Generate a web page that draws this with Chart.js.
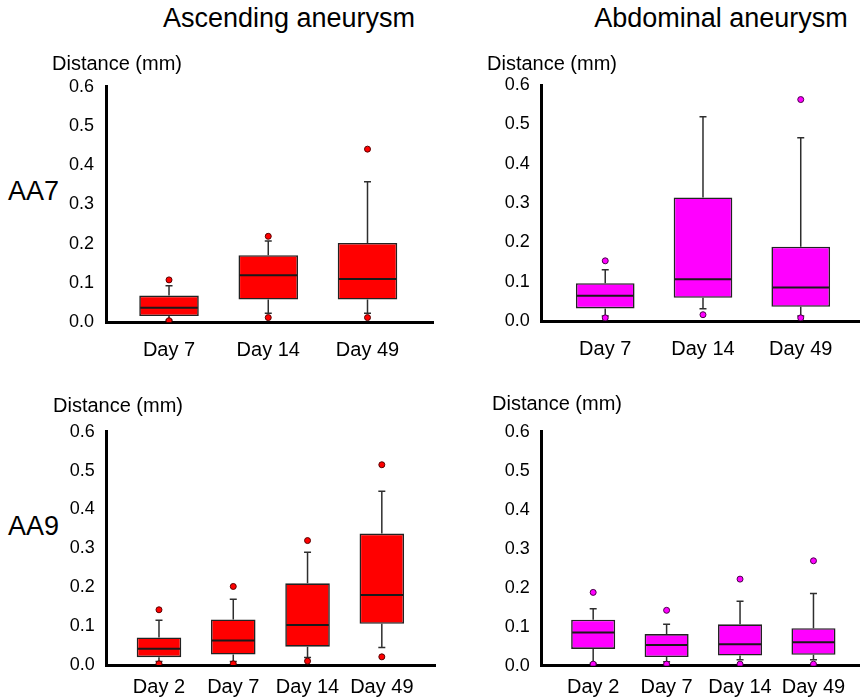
<!DOCTYPE html>
<html>
<head>
<meta charset="utf-8">
<script src="https://cdn.jsdelivr.net/npm/chart.js@4.4.1/dist/chart.umd.min.js"></script>
<style>
  html, body { margin: 0; padding: 0; background: #fff; }
  #page { position: relative; width: 863px; height: 698px; overflow: hidden;
          font-family: "Liberation Sans", Arial, sans-serif; color: #000; }
  .panel { position: absolute; }
  .txt { position: absolute; white-space: nowrap; line-height: 1; }
  .heading { font-size: 27px; transform: translateX(-50%); }
  .ylab { font-size: 20px; }
  .row { font-size: 27px; }
</style>
</head>
<body>
<div id="page">
  <div class="txt heading" style="left:289px; top:5px;">Ascending aneurysm</div>
  <div class="txt heading" style="left:721px; top:5px;">Abdominal aneurysm</div>
  <div class="txt row" style="left:8px; top:178px;">AA7</div>
  <div class="txt row" style="left:8px; top:513px;">AA9</div>

  <div class="panel" style="left:0px; top:60px; width:440px; height:315px;"><canvas id="aa7asc"></canvas></div>
  <div class="panel" style="left:440px; top:60px; width:423px; height:315px;"><canvas id="aa7abd"></canvas></div>
  <div class="panel" style="left:0px; top:400px; width:440px; height:298px;"><canvas id="aa9asc"></canvas></div>
  <div class="panel" style="left:440px; top:400px; width:423px; height:298px;"><canvas id="aa9abd"></canvas></div>

  <div class="txt ylab" style="left:52px; top:53px;">Distance (mm)</div>
  <div class="txt ylab" style="left:487px; top:53px;">Distance (mm)</div>
  <div class="txt ylab" style="left:53px; top:395px;">Distance (mm)</div>
  <div class="txt ylab" style="left:492px; top:393px;">Distance (mm)</div>
</div>
<script>
// ---- categories ----
const daysAA7 = ['Day 7', 'Day 14', 'Day 49'];
const daysAA9 = ['Day 2', 'Day 7', 'Day 14', 'Day 49'];
const yTicks = [0, 0.1, 0.2, 0.3, 0.4, 0.5, 0.6];

// ---- AA7, ascending aneurysm (mm) ----
const aa7AscLow    = [0.006, 0.023, 0.023];
const aa7AscQ1     = [0.016, 0.058, 0.058];
const aa7AscMedian = [0.037, 0.120, 0.110];
const aa7AscQ3     = [0.068, 0.171, 0.202];
const aa7AscHigh   = [0.093, 0.207, 0.358];
const aa7AscOut    = [[0.108, 0.004], [0.219, 0.012], [0.441, 0.012]];

// ---- AA7, abdominal aneurysm (mm) ----
const aa7AbdLow    = [0.013, 0.031, 0.013];
const aa7AbdQ1     = [0.032, 0.059, 0.036];
const aa7AbdMedian = [0.064, 0.106, 0.085];
const aa7AbdQ3     = [0.096, 0.314, 0.189];
const aa7AbdHigh   = [0.130, 0.519, 0.466];
const aa7AbdOut    = [[0.153, 0.008], [0.016], [0.563, 0.008]];

// ---- AA9, ascending aneurysm (mm) ----
const aa9AscLow    = [0.009, 0.009, 0.019, 0.045];
const aa9AscQ1     = [0.020, 0.027, 0.047, 0.106];
const aa9AscMedian = [0.042, 0.063, 0.103, 0.180];
const aa9AscQ3     = [0.071, 0.117, 0.210, 0.338];
const aa9AscHigh   = [0.115, 0.169, 0.290, 0.447];
const aa9AscOut    = [[0.142, 0.003], [0.202, 0.003], [0.320, 0.010], [0.515, 0.021]];

// ---- AA9, abdominal aneurysm (mm) ----
const aa9AbdLow    = [0.006, 0.010, 0.015, 0.015];
const aa9AbdQ1     = [0.043, 0.022, 0.026, 0.028];
const aa9AbdMedian = [0.085, 0.053, 0.055, 0.060];
const aa9AbdQ3     = [0.118, 0.081, 0.106, 0.096];
const aa9AbdHigh   = [0.146, 0.106, 0.165, 0.185];
const aa9AbdOut    = [[0.188, 0.004], [0.142, 0.004], [0.222, 0.004], [0.269, 0.004]];

const RED = '#ff0000';
const MAGENTA = '#ff00ff';

Chart.defaults.font.family = '"Liberation Sans", Arial, sans-serif';
Chart.defaults.color = '#000';

// Whiskers (behind the boxes) and median lines (on top of the boxes)
const boxWhiskers = {
  id: 'boxWhiskers',
  beforeDatasetsDraw(chart, args, opts) {
    const { ctx, scales: { x, y } } = chart;
    ctx.save();
    ctx.strokeStyle = '#2e2e2e';
    ctx.lineWidth = 1.5;
    opts.low.forEach((lo, i) => {
      const cx = x.getPixelForValue(i + 1);
      const segs = [[opts.q3[i], opts.high[i]], [opts.q1[i], lo]];
      segs.forEach(([from, to]) => {
        const y0 = y.getPixelForValue(from), y1 = y.getPixelForValue(to);
        ctx.beginPath();
        ctx.moveTo(cx, y0); ctx.lineTo(cx, y1);
        ctx.moveTo(cx - 3.5, y1); ctx.lineTo(cx + 3.5, y1);
        ctx.stroke();
      });
    });
    ctx.restore();
  },
  afterDatasetDraw(chart, args, opts) {
    if (args.index !== 0) return;
    const { ctx, scales: { y } } = chart;
    ctx.save();
    ctx.strokeStyle = '#1a1a1a';
    ctx.lineWidth = 2;
    args.meta.data.forEach((bar, i) => {
      const { x: bx, width } = bar.getProps(['x', 'width'], true);
      const my = y.getPixelForValue(opts.median[i]);
      ctx.beginPath();
      ctx.moveTo(bx - width / 2 + 1, my);
      ctx.lineTo(bx + width / 2 - 1, my);
      ctx.stroke();
    });
    ctx.restore();
  }
};

function makePanel(id, layout, cats, low, q1, median, q3, high, out, color, edge) {
  const boxes = cats.map((c, i) => ({ x: i + 1, y: [q1[i], q3[i]] }));
  const points = [];
  out.forEach((vals, i) => vals.forEach(v => points.push({ x: i + 1, y: v })));
  new Chart(document.getElementById(id), {
    type: 'bar',
    data: {
      datasets: [
        {
          type: 'bar', data: boxes, order: 1,
          backgroundColor: color, borderColor: '#222', borderWidth: 1.6,
          borderSkipped: false, categoryPercentage: 1, barPercentage: 0.6
        },
        {
          type: 'scatter', data: points, order: 0,
          backgroundColor: color, borderColor: edge, borderWidth: 1,
          pointRadius: 3, pointHoverRadius: 3
        }
      ]
    },
    options: {
      responsive: true,
      maintainAspectRatio: false,
      animation: false,
      events: [],
      layout: { padding: { left: 0, top: layout.top, right: layout.right, bottom: 0 } },
      plugins: {
        legend: { display: false },
        tooltip: { enabled: false },
        boxWhiskers: { low, q1, median, q3, high }
      },
      scales: {
        x: {
          type: 'linear', min: layout.xMin, max: layout.xMax,
          offset: false, bounds: 'data',
          grid: { display: false, drawTicks: false, offset: false },
          border: { display: true, color: '#000', width: 3 },
          afterBuildTicks: s => { s.ticks = cats.map((c, i) => ({ value: i + 1 })); },
          afterFit: s => { s.height = layout.xHeight; },
          ticks: {
            autoSkip: false, maxRotation: 0, padding: layout.xPad,
            font: { size: 20 }, color: '#000',
            callback: v => cats[Math.round(v) - 1]
          }
        },
        y: {
          type: 'linear', min: 0, max: 0.6,
          grid: { display: false, drawTicks: false },
          border: { display: true, color: '#000', width: 3 },
          afterBuildTicks: s => { s.ticks = yTicks.map(v => ({ value: v })); },
          afterFit: s => { s.width = layout.yWidth; },
          ticks: {
            padding: 12, font: { size: 18 }, color: '#000',
            callback: v => Number(v).toFixed(1)
          }
        }
      }
    },
    plugins: [boxWhiskers]
  });
}

makePanel('aa7asc', { top: 26.7, right: 7, yWidth: 106, xHeight: 52.7, xMin: 0.365, xMax: 3.66, xPad: 16 },
  daysAA7, aa7AscLow, aa7AscQ1, aa7AscMedian, aa7AscQ3, aa7AscHigh, aa7AscOut, RED, '#5a0000');
makePanel('aa7abd', { top: 25, right: 0, yWidth: 101.7, xHeight: 54, xMin: 0.35, xMax: 3.596, xPad: 16 },
  daysAA7, aa7AbdLow, aa7AbdQ1, aa7AbdMedian, aa7AbdQ3, aa7AbdHigh, aa7AbdOut, MAGENTA, '#4a004a');
makePanel('aa9asc', { top: 31.7, right: 5, yWidth: 106.7, xHeight: 33, xMin: 0.296, xMax: 4.716, xPad: 10 },
  daysAA9, aa9AscLow, aa9AscQ1, aa9AscMedian, aa9AscQ3, aa9AscHigh, aa9AscOut, RED, '#5a0000');
makePanel('aa9abd', { top: 31.7, right: 0, yWidth: 101.7, xHeight: 32.3, xMin: 0.299, xMax: 4.62, xPad: 10 },
  daysAA9, aa9AbdLow, aa9AbdQ1, aa9AbdMedian, aa9AbdQ3, aa9AbdHigh, aa9AbdOut, MAGENTA, '#4a004a');
</script>
</body>
</html>
